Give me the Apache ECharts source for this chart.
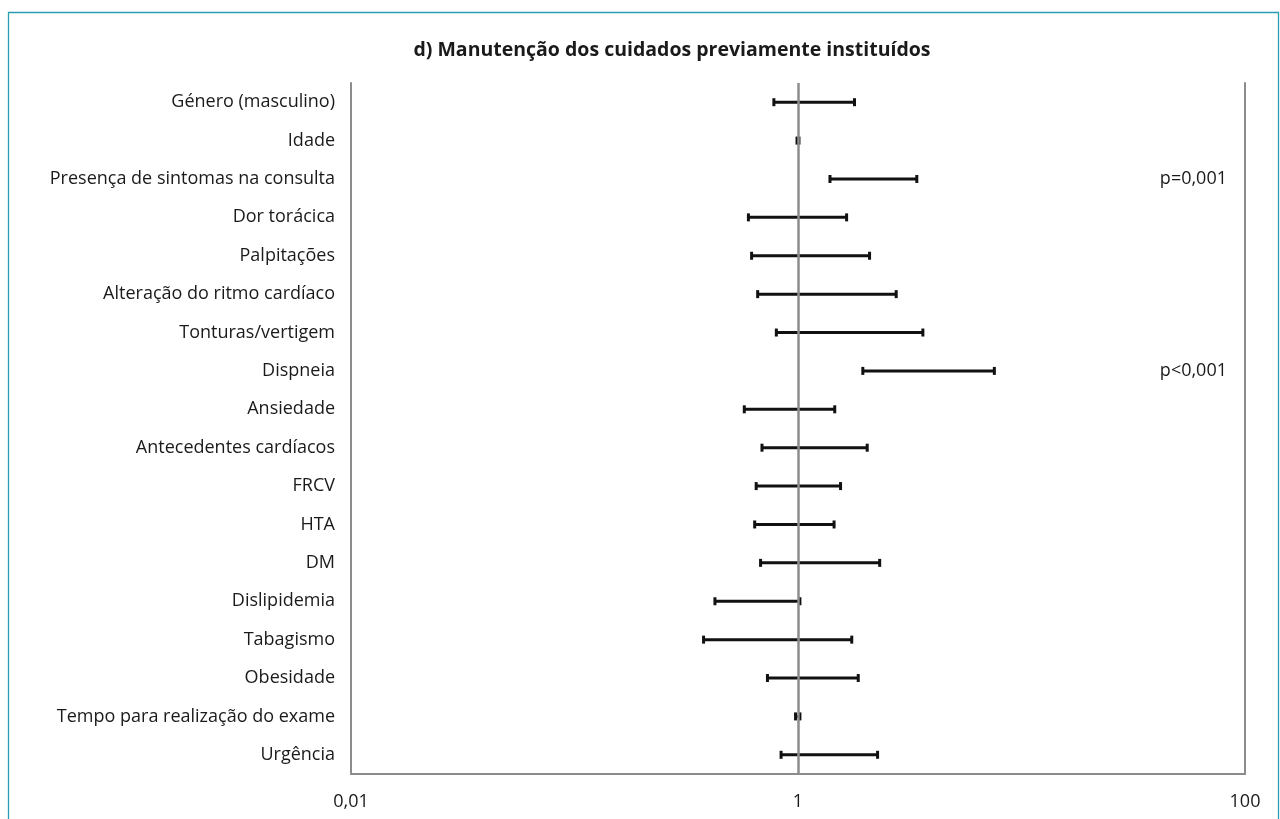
<!DOCTYPE html>
<html>
<head>
<meta charset="utf-8">
<script src="https://cdn.jsdelivr.net/npm/echarts@6/dist/echarts.min.js"></script>
<style>
html,body{margin:0;padding:0;background:#fff;}
#chart{width:1280px;height:819px;}
</style>
</head>
<body>
<div id="chart"></div>
<script>
const categories = [
  'Género (masculino)', 'Idade', 'Presença de sintomas na consulta', 'Dor torácica',
  'Palpitações', 'Alteração do ritmo cardíaco', 'Tonturas/vertigem', 'Dispneia',
  'Ansiedade', 'Antecedentes cardíacos', 'FRCV', 'HTA', 'DM', 'Dislipidemia',
  'Tabagismo', 'Obesidade', 'Tempo para realização do exame', 'Urgência'
];
const lowerCI = [0.78, 0.99, 1.39, 0.60, 0.62, 0.66, 0.80, 1.95, 0.575, 0.69, 0.65, 0.64, 0.68, 0.425, 0.378, 0.73, 0.975, 0.84];
const upperCI = [1.79, 1.01, 3.40, 1.65, 2.09, 2.75, 3.62, 7.56, 1.46, 2.04, 1.55, 1.45, 2.32, 1.02, 1.74, 1.86, 1.02, 2.27];
const pValues = ['', '', 'p=0,001', '', '', '', '', 'p<0,001', '', '', '', '', '', '', '', '', '', ''];
const xTickLabels = {0.01: '0,01', 1: '1', 100: '100'};
const referenceValue = 1;

const FONT = '"Open Sans", "Noto Sans", sans-serif';
const rows = categories.map((c, i) => [i, lowerCI[i], upperCI[i]]);

const chart = echarts.init(document.getElementById('chart'), null, {renderer: 'canvas'});
chart.setOption({
  animation: false,
  backgroundColor: '#fff',
  title: {
    text: 'd) Manutenção dos cuidados previamente instituídos',
    left: 667, top: 35, textAlign: 'center',
    textStyle: {fontFamily: FONT, fontSize: 19.5, fontWeight: 'bold', color: '#1a1a1a'}
  },
  graphic: [{
    type: 'rect', silent: true,
    shape: {x: 8.5, y: 12.5, width: 1270, height: 830},
    style: {fill: 'none', stroke: '#2b9db3', lineWidth: 1.3}
  }],
  grid: {left: 351, right: 35, top: 83, bottom: 45},
  xAxis: {
    type: 'log', logBase: 10, min: 0.01, max: 100,
    axisLine: {show: true, lineStyle: {color: '#8c8c8c', width: 2}},
    axisTick: {show: false},
    splitLine: {show: false},
    axisLabel: {
      margin: 19, fontFamily: FONT, fontSize: 18, color: '#1a1a1a',
      formatter: v => {
        const key = Object.keys(xTickLabels).find(k => Math.abs(Number(k) - v) < 1e-9 * Math.max(1, v));
        return key !== undefined ? xTickLabels[key] : '';
      }
    }
  },
  yAxis: [{
    type: 'category', data: categories, inverse: true,
    axisLine: {show: true, lineStyle: {color: '#8c8c8c', width: 2}},
    axisTick: {show: false},
    axisLabel: {margin: 16, fontFamily: FONT, fontSize: 18, color: '#1a1a1a'}
  }, {
    type: 'category', data: pValues, inverse: true, position: 'right',
    axisLine: {show: true, lineStyle: {color: '#8c8c8c', width: 2}},
    axisTick: {show: false},
    axisLabel: {inside: true, margin: 18, fontFamily: FONT, fontSize: 18, color: '#1a1a1a'}
  }],
  series: [{
    type: 'custom',
    data: rows,
    encode: {x: [1, 2], y: 0},
    renderItem: (params, api) => {
      const idx = api.value(0);
      const p1 = api.coord([api.value(1), idx]);
      const p2 = api.coord([api.value(2), idx]);
      const h = 4;
      const style = {stroke: '#111', lineWidth: 3};
      return {
        type: 'group',
        children: [
          {type: 'line', shape: {x1: p1[0], y1: p1[1], x2: p2[0], y2: p2[1]}, style},
          {type: 'line', shape: {x1: p1[0], y1: p1[1] - h, x2: p1[0], y2: p1[1] + h}, style},
          {type: 'line', shape: {x1: p2[0], y1: p2[1] - h, x2: p2[0], y2: p2[1] + h}, style}
        ]
      };
    },
    markLine: {
      silent: true, symbol: 'none', label: {show: false},
      lineStyle: {color: '#8c8c8c', width: 2.5, type: 'solid'},
      data: [{xAxis: referenceValue}]
    },
    z: 3
  }]
});
</script>
</body>
</html>
